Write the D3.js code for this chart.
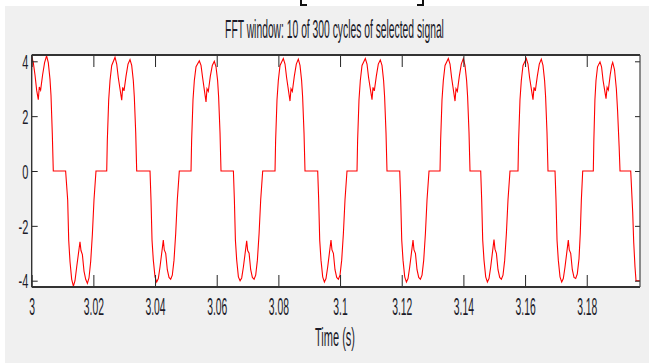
<!DOCTYPE html>
<html><head><meta charset="utf-8">
<script src="https://cdn.jsdelivr.net/npm/d3@7"></script>
<style>html,body{margin:0;padding:0;background:#fff;overflow:hidden}</style>
</head><body>
<svg id="c" width="649" height="363"></svg>
<script>
const titleText = "FFT window: 10 of 300 cycles of selected signal";
const xLabelText = "Time (s)";
const xTicks = [3, 3.02, 3.04, 3.06, 3.08, 3.1, 3.12, 3.14, 3.16, 3.18];
const xTickLabels = ["3", "3.02", "3.04", "3.06", "3.08", "3.1", "3.12", "3.14", "3.16", "3.18"];
const yTicks = [-4, -2, 0, 2, 4];
const yTickLabels = ["-4", "-2", "0", "2", "4"];
const xDomain = [3, 3.19727];
const yDomain = [-4.23, 4.23];

// signal vertices (time in s, value)
const timeS = [
  3.00000,3.00052,3.00107,3.00162,3.00214,3.00246,3.00289,3.00353,3.00418,3.00483,3.00538,3.00593,3.00626,3.00668,3.00700,
  3.01100,3.01167,3.01200,3.01242,3.01297,3.01352,3.01404,3.01459,3.01566,3.01598,3.01644,3.01696,3.01751,3.01806,3.01858,3.01913,3.01968,3.02020,3.02085,
  3.02433,3.02452,3.02497,3.02540,3.02595,3.02702,3.02757,3.02809,3.02919,3.02951,3.02994,3.03058,3.03123,3.03188,3.03243,3.03295,3.03328,3.03373,3.03405,
  3.03837,3.03869,3.03902,3.03944,3.03999,3.04054,3.04106,3.04161,3.04268,3.04300,3.04346,3.04398,3.04453,3.04508,3.04560,3.04615,3.04670,3.04722,3.04787,
  3.05167,3.05186,3.05231,3.05274,3.05329,3.05436,3.05491,3.05543,3.05653,3.05685,3.05728,3.05792,3.05857,3.05922,3.05977,3.06029,3.06062,3.06107,3.06139,
  3.06541,3.06573,3.06606,3.06648,3.06703,3.06758,3.06810,3.06865,3.06972,3.07004,3.07050,3.07102,3.07157,3.07212,3.07264,3.07319,3.07374,3.07426,3.07491,
  3.07891,3.07910,3.07955,3.07998,3.08053,3.08160,3.08215,3.08267,3.08377,3.08409,3.08452,3.08516,3.08581,3.08646,3.08701,3.08753,3.08786,3.08831,3.08863,
  3.09275,3.09307,3.09340,3.09382,3.09437,3.09492,3.09544,3.09599,3.09706,3.09738,3.09784,3.09836,3.09891,3.09946,3.09998,3.10053,3.10108,3.10160,3.10225,
  3.10550,3.10569,3.10614,3.10657,3.10712,3.10819,3.10874,3.10926,3.11036,3.11068,3.11111,3.11175,3.11240,3.11305,3.11360,3.11412,3.11445,3.11490,3.11522,
  3.11935,3.11967,3.12000,3.12042,3.12097,3.12152,3.12204,3.12259,3.12366,3.12398,3.12444,3.12496,3.12551,3.12606,3.12658,3.12713,3.12768,3.12820,3.12885,
  3.13242,3.13261,3.13306,3.13349,3.13404,3.13511,3.13566,3.13618,3.13728,3.13760,3.13803,3.13867,3.13932,3.13997,3.14052,3.14104,3.14137,3.14182,3.14214,
  3.14561,3.14593,3.14626,3.14668,3.14723,3.14778,3.14830,3.14885,3.14992,3.15024,3.15070,3.15122,3.15177,3.15232,3.15284,3.15339,3.15394,3.15446,3.15511,
  3.15771,3.15790,3.15835,3.15878,3.15933,3.16040,3.16095,3.16147,3.16257,3.16289,3.16332,3.16396,3.16461,3.16526,3.16581,3.16633,3.16666,3.16711,3.16743,
  3.16971,3.17003,3.17036,3.17078,3.17133,3.17188,3.17240,3.17295,3.17402,3.17434,3.17480,3.17532,3.17587,3.17642,3.17694,3.17749,3.17790,3.17825,3.17869,
  3.18213,3.18230,3.18265,3.18300,3.18350,3.18430,3.18480,3.18530,3.18625,3.18660,3.18700,3.18760,3.18810,3.18842,3.18900,3.18960,3.19000,3.19050,3.19079,
  3.19426,3.19490,3.19523,3.19565,3.19598,3.19727
];
const voltage = [
  4.18,3.95,3.5,2.94,2.6,3.06,2.95,3.5,3.95,4.2,3.95,3.35,2.75,1.37,0,
  0,-1.06,-2.52,-3.3,-3.95,-4.2,-4.0,-3.5,-2.58,-2.9,-3.05,-3.65,-3.95,-4.1,-3.9,-3.3,-2.3,-1.06,0,
  0,1.1,2.6,3.3,3.85,4.15,3.9,3.4,2.58,3.05,2.92,3.45,3.9,4.06,3.85,3.3,2.7,1.4,0,
  0,-1.06,-2.52,-3.25,-3.86,-4.05,-3.92,-3.5,-2.52,-2.88,-3.0,-3.6,-3.88,-3.95,-3.8,-3.25,-2.28,-1.06,0,
  0,1.1,2.6,3.3,3.8,4.02,3.85,3.4,2.52,3.0,2.9,3.45,3.85,4.0,3.8,3.3,2.7,1.4,0,
  0,-1.06,-2.52,-3.25,-3.86,-4.0,-3.9,-3.5,-2.55,-2.9,-3.0,-3.6,-3.88,-3.95,-3.8,-3.25,-2.28,-1.06,0,
  0,1.1,2.6,3.3,3.85,4.1,3.9,3.4,2.55,3.0,2.9,3.45,3.9,4.08,3.85,3.3,2.7,1.4,0,
  0,-1.06,-2.52,-3.25,-3.86,-4.05,-3.92,-3.5,-2.52,-2.88,-3.0,-3.6,-3.88,-3.95,-3.8,-3.25,-2.28,-1.06,0,
  0,1.1,2.6,3.3,3.85,4.1,3.9,3.4,2.6,3.05,2.92,3.45,3.9,4.05,3.85,3.3,2.7,1.4,0,
  0,-1.06,-2.52,-3.25,-3.86,-4.05,-3.92,-3.5,-2.52,-2.88,-3.0,-3.6,-3.88,-3.95,-3.8,-3.25,-2.28,-1.06,0,
  0,1.1,2.6,3.3,3.85,4.1,3.9,3.4,2.55,3.0,2.9,3.45,3.9,4.1,3.85,3.3,2.7,1.4,0,
  0,-1.06,-2.52,-3.25,-3.86,-4.05,-3.92,-3.5,-2.5,-2.85,-3.0,-3.6,-3.88,-3.95,-3.8,-3.25,-2.28,-1.06,0,
  0,1.1,2.6,3.3,3.85,4.1,3.9,3.4,2.6,3.05,2.92,3.45,3.9,4.08,3.85,3.3,2.7,1.4,0,
  0,-1.06,-2.52,-3.25,-3.86,-4.05,-3.92,-3.5,-2.52,-2.88,-3.0,-3.6,-3.88,-3.92,-3.75,-3.2,-2.28,-1.06,0,
  0,1.1,2.6,3.3,3.8,3.98,3.8,3.3,2.64,3.05,2.95,3.5,3.85,3.96,3.7,3.0,2.2,0.9,0,
  0,-1.5,-2.6,-3.5,-4.0,-4.0
];

const W = 649, H = 363;
const P = {l: 31.7, r: 640, t: 55, b: 287};
const FONT = '"Liberation Sans", Arial, sans-serif';
const svg = d3.select("#c");

svg.append("rect").attr("width", W).attr("height", H).attr("fill", "#ffffff");
svg.append("rect").attr("x", 5).attr("y", 6).attr("width", W - 5).attr("height", H - 6).attr("fill", "#f0f0f0");
// cropped bracket at the very top
svg.append("path").attr("d", "M301,0V5H307 M423,0V5H417").attr("fill", "none").attr("stroke", "#111").attr("stroke-width", 2);

const x = d3.scaleLinear().domain(xDomain).range([P.l, P.r]);
const y = d3.scaleLinear().domain(yDomain).range([P.b, P.t]);

svg.append("rect").attr("x", P.l).attr("y", P.t).attr("width", P.r - P.l).attr("height", P.b - P.t).attr("fill", "#ffffff");

svg.append("defs").append("clipPath").attr("id", "clip")
  .append("rect").attr("x", P.l).attr("y", P.t).attr("width", P.r - P.l).attr("height", P.b - P.t);

const pts = timeS.map((t, i) => [t, voltage[i]]);
const line = d3.line().x(d => x(d[0])).y(d => y(d[1]));
svg.append("path").datum(pts).attr("d", line).attr("fill", "none")
  .attr("stroke", "#ff0000").attr("stroke-width", 1.1).attr("clip-path", "url(#clip)");

const tickCol = "#262626";
// bottom axis
const gb = svg.append("g").attr("transform", `translate(0,${P.b})`)
  .call(d3.axisBottom(x).tickValues(xTicks).tickFormat((d, i) => xTickLabels[i]).tickSizeInner(-12).tickSizeOuter(0).tickPadding(0));
gb.select(".domain").remove();
gb.selectAll(".tick line").attr("stroke", tickCol);
gb.selectAll(".tick text").attr("y", 28).attr("dy", 0).attr("transform", "scale(0.45,1)")
  .attr("font-family", FONT).attr("font-size", 23).attr("fill", "#1c1c2a");
// top axis
const gt = svg.append("g").attr("transform", `translate(0,${P.t})`)
  .call(d3.axisTop(x).tickValues(xTicks).tickFormat("").tickSizeInner(-12).tickSizeOuter(0));
gt.select(".domain").remove();
gt.selectAll(".tick line").attr("stroke", tickCol);
// left axis
const gl = svg.append("g").attr("transform", `translate(${P.l},0)`)
  .call(d3.axisLeft(y).tickValues(yTicks).tickFormat((d, i) => yTickLabels[i]).tickSizeInner(-6).tickSizeOuter(0).tickPadding(0));
gl.select(".domain").remove();
gl.selectAll(".tick line").attr("stroke", tickCol);
gl.selectAll(".tick text").attr("x", -3.4 / 0.55).attr("dy", "0.36em").attr("transform", "scale(0.55,1)")
  .attr("font-family", FONT).attr("font-size", 20).attr("fill", "#1c1c2a");
// right axis
const gr = svg.append("g").attr("transform", `translate(${P.r},0)`)
  .call(d3.axisRight(y).tickValues(yTicks).tickFormat("").tickSizeInner(-5).tickSizeOuter(0));
gr.select(".domain").remove();
gr.selectAll(".tick line").attr("stroke", tickCol);

// frame
svg.append("line").attr("x1", P.l).attr("x2", P.r).attr("y1", P.t).attr("y2", P.t).attr("stroke", "#333").attr("stroke-width", 2.2);
svg.append("line").attr("x1", P.l).attr("x2", P.r).attr("y1", P.b).attr("y2", P.b).attr("stroke", "#333").attr("stroke-width", 2);
svg.append("line").attr("x1", P.l).attr("x2", P.l).attr("y1", P.t).attr("y2", P.b).attr("stroke", "#333").attr("stroke-width", 1.4);
svg.append("line").attr("x1", P.r).attr("x2", P.r).attr("y1", P.t).attr("y2", P.b).attr("stroke", "#444").attr("stroke-width", 1.2);

// title and x label, horizontally condensed like the reference
function condensedText(txt, cx, by, size, width) {
  const t = svg.append("text").attr("text-anchor", "middle")
    .attr("font-family", FONT).attr("font-size", size).attr("fill", "#1c1c2a").text(txt);
  const len = t.node().getComputedTextLength();
  t.attr("transform", `translate(${cx},${by}) scale(${width / len},1)`);
}
condensedText(titleText, 334.5, 38, 25, 219);
condensedText(xLabelText, 335, 346, 26, 40);
</script>
</body></html>
